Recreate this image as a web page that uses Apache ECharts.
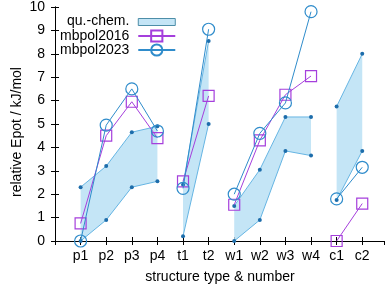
<!DOCTYPE html>
<html>
<head>
<meta charset="utf-8">
<script src="https://cdn.jsdelivr.net/npm/echarts@6/dist/echarts.min.js"></script>
<style>html,body{margin:0;padding:0;background:#fff;}#c{width:390px;height:286px;}</style>
</head>
<body>
<div id="c"></div>
<script>
const categories = ['p1','p2','p3','p4','t1','t2','w1','w2','w3','w4','c1','c2'];
const groups = [[0,3],[4,5],[6,9],[10,11]];
const quChemLow  = [0.0, 0.9, 2.3, 2.55, 0.2, 5.0, 0.0, 0.9, 3.85, 3.65, 1.75, 3.85];
const quChemHigh = [2.3, 3.2, 4.65, 4.9, 2.4, 8.55, 1.5, 3.05, 5.3, 5.3, 5.75, 8.0];
const mbpol2016  = [0.75, 4.5, 5.95, 4.4, 2.55, 6.2, 1.55, 4.3, 6.25, 7.05, 0.0, 1.6];
const mbpol2023  = [0.0, 4.95, 6.5, 4.7, 2.25, 9.05, 2.0, 4.6, 5.9, 9.8, 1.8, 3.15];
const yTicks = [0,1,2,3,4,5,6,7,8,9,10];

const FONT = 'Liberation Sans, Arial, sans-serif';
const PURPLE = '#a53fdc';
const BLUE = '#2f8ccb';
const BAND = '#c4e5f6';
const BANDEDGE = '#66b5e3';
const DOT = '#1d6dab';

function seriesData(arr) {
  const out = [];
  groups.forEach((g, gi) => {
    for (let i = g[0]; i <= g[1]; i++) out.push([i + 1, arr[i]]);
    if (gi < groups.length - 1) out.push([g[1] + 1.5, null]);
  });
  return out;
}

const chart = echarts.init(document.getElementById('c'), null, {renderer: 'canvas'});
const axisCommon = {
  type: 'value', min: 0, interval: 1,
  axisLine: {show: true, lineStyle: {color: '#000', width: 1}},
  axisTick: {show: true, inside: true, length: 4, lineStyle: {color: '#000', width: 1}},
  splitLine: {show: false}
};
chart.setOption({
  animation: false,
  grid: {left: 55, right: 6, top: 7, bottom: 45, containLabel: false},
  xAxis: [
    Object.assign({}, axisCommon, {max: 12.85, position: 'bottom',
      axisLabel: {show: true, margin: 8, color: '#000', fontSize: 14, fontFamily: FONT,
        showMaxLabel: false, showMinLabel: false,
        formatter: v => (Number.isInteger(v) && categories[v - 1]) ? categories[v - 1] : ''}}),
    Object.assign({}, axisCommon, {max: 12.85, position: 'top', axisLabel: {show: false}})
  ],
  yAxis: [
    Object.assign({}, axisCommon, {max: 10, position: 'left',
      axisLabel: {show: true, margin: 10, color: '#000', fontSize: 14, fontFamily: FONT,
        formatter: v => yTicks.indexOf(v) >= 0 ? String(v) : ''}}),
    Object.assign({}, axisCommon, {max: 10, position: 'right', axisLabel: {show: false}})
  ],
  legend: {
    orient: 'vertical', align: 'right', left: 60, top: 14, padding: 0,
    itemWidth: 37, itemHeight: 14, itemGap: 0,
    textStyle: {color: '#000', fontSize: 14, fontFamily: FONT, padding: [0, 4, 0, 0]},
    data: [
      {name: 'qu.-chem.', icon: 'path://M0,0 M0,4 L37,4 L37,11 L0,11 Z M37,14',
        itemStyle: {color: BAND, borderColor: '#4d8ea8', borderWidth: 1}},
      {name: 'mbpol2016'},
      {name: 'mbpol2023'}
    ]
  },
  graphic: [
    {type: 'text', x: 17, y: 132, rotation: Math.PI / 2,
      style: {text: 'relative Epot / kJ/mol', font: '14px ' + FONT, fill: '#000', align: 'center', verticalAlign: 'middle'}},
    {type: 'text', x: 220, y: 277,
      style: {text: 'structure type & number', font: '14px ' + FONT, fill: '#000', align: 'center', verticalAlign: 'middle'}}
  ],
  series: [
    {
      name: 'qu.-chem.', type: 'custom', xAxisIndex: 0, yAxisIndex: 0, z: 1,
      data: groups.map(g => [g[0], g[1]]),
      renderItem: function (params, api) {
        const s = api.value(0), e = api.value(1);
        const pts = [];
        for (let i = s; i <= e; i++) pts.push(api.coord([i + 1, quChemHigh[i]]));
        for (let i = e; i >= s; i--) pts.push(api.coord([i + 1, quChemLow[i]]));
        return {type: 'polygon', shape: {points: pts}, style: {fill: BAND, stroke: null}};
      },
      itemStyle: {color: BAND}
    },
    {
      name: 'quLow', type: 'line', z: 2, data: seriesData(quChemLow), connectNulls: false,
      symbol: 'circle', symbolSize: 4, showSymbol: true,
      lineStyle: {color: BANDEDGE, width: 1}, itemStyle: {color: DOT}
    },
    {
      name: 'quHigh', type: 'line', z: 2, data: seriesData(quChemHigh), connectNulls: false,
      symbol: 'circle', symbolSize: 4, showSymbol: true,
      lineStyle: {color: BANDEDGE, width: 1}, itemStyle: {color: DOT}
    },
    {
      name: 'mbpol2016', type: 'line', z: 3, data: seriesData(mbpol2016), connectNulls: false,
      symbol: 'rect', symbolSize: 11, showSymbol: true,
      lineStyle: {color: PURPLE, width: 1},
      itemStyle: {color: 'rgba(255,255,255,0)', borderColor: PURPLE, borderWidth: 1.2}
    },
    {
      name: 'mbpol2023', type: 'line', z: 4, data: seriesData(mbpol2023), connectNulls: false,
      symbol: 'circle', symbolSize: 12, showSymbol: true,
      lineStyle: {color: BLUE, width: 1},
      itemStyle: {color: 'rgba(255,255,255,0)', borderColor: BLUE, borderWidth: 1.2}
    }
  ]
});
</script>
</body>
</html>
